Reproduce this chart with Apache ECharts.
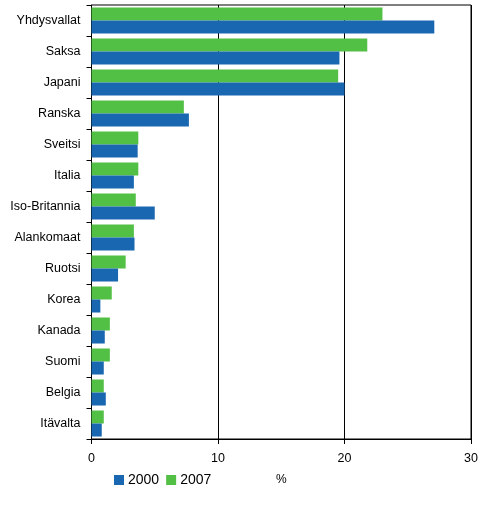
<!DOCTYPE html>
<html><head><meta charset="utf-8">
<script src="https://cdn.jsdelivr.net/npm/echarts@6/dist/echarts.min.js"></script>
<style>html,body{margin:0;padding:0;background:#fff}#c{width:497px;height:509px}</style>
</head><body><div id="c"></div>
<script>
const categories = ["Yhdysvallat","Saksa","Japani","Ranska","Sveitsi","Italia","Iso-Britannia","Alankomaat","Ruotsi","Korea","Kanada","Suomi","Belgia","Itävalta"];
const values2000 = [27.1,19.6,20.0,7.7,3.65,3.35,5.0,3.4,2.1,0.7,1.05,0.97,1.13,0.81];
const values2007 = [23.0,21.8,19.5,7.3,3.7,3.7,3.5,3.35,2.7,1.6,1.45,1.45,0.97,0.97];
const xTicks = [0,10,20,30];
const font = "'Liberation Sans', Arial, sans-serif";
const chart = echarts.init(document.getElementById('c'), null, {renderer:'canvas'});
chart.setOption({
  animation:false,
  grid:{left:91.5,right:26,top:5,bottom:70,show:true,borderColor:'#000',borderWidth:1,containLabel:false},
  legend:{left:114,top:473,padding:0,itemWidth:10,itemHeight:10,itemGap:7,icon:'rect',
    data:['2000','2007'],textStyle:{fontFamily:font,fontSize:14,color:'#000',padding:[0,0,0,-1]}},
  graphic:[{type:'text',left:276,top:474,style:{text:'%',font:'12px '+font,fill:'#000'}}],
  xAxis:{type:'value',min:xTicks[0],max:xTicks[xTicks.length-1],interval:10,
    axisLine:{show:true,lineStyle:{color:'#000'}},
    axisTick:{show:true,length:5,lineStyle:{color:'#000'}},
    axisLabel:{color:'#000',fontFamily:font,fontSize:12.5,margin:13},
    splitLine:{show:true,lineStyle:{color:'#000',width:1}}},
  yAxis:{type:'category',data:categories,inverse:true,
    axisLine:{show:true,lineStyle:{color:'#000'}},
    axisTick:{show:true,length:5,lineStyle:{color:'#000'}},
    axisLabel:{color:'#000',fontFamily:font,fontSize:12.5,margin:11}},
  series:[
    {name:'2007',type:'bar',data:values2007,itemStyle:{color:'#52bf45'},barGap:'0%',barCategoryGap:'16%'},
    {name:'2000',type:'bar',data:values2000,itemStyle:{color:'#1a67b1'},barGap:'0%',barCategoryGap:'16%'}
  ]
});
</script></body></html>
